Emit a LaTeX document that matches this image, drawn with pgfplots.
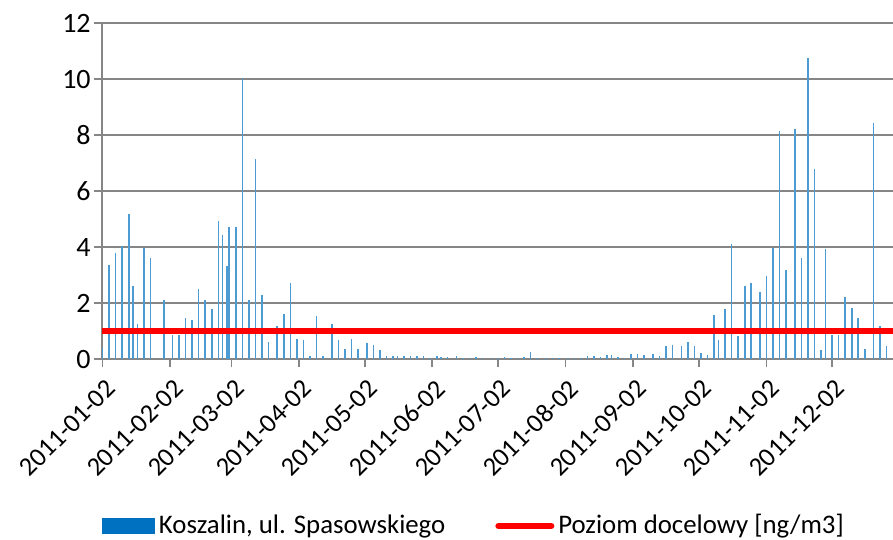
\documentclass[border=0pt]{standalone}
\usepackage{fontspec}
\setmainfont{Carlito}
\usepackage{pgfplots}
\usepackage{pgfplotstable}
\pgfplotsset{compat=1.18}
\definecolor{barblue}{RGB}{0,112,192}
\definecolor{gridgray}{RGB}{134,134,134}
\pgfplotstableread{
d v
0 0.42
3 3.37
6 3.79
9 4.03
12 5.19
14 2.60
16 1.27
19 3.97
22 3.60
28 2.13
32 0.85
35 0.85
38 1.49
41 1.40
44 2.51
47 2.10
50 1.81
53 4.93
55 4.44
57 3.32
58 4.72
61 4.72
64 10.02
67 2.10
70 7.15
73 2.31
76 0.60
80 1.20
83 1.60
86 2.71
89 0.74
92 0.69
95 0.10
98 1.56
101 0.10
105 1.26
108 0.69
111 0.37
114 0.74
117 0.37
121 0.59
124 0.51
127 0.34
130 0.10
133 0.10
135 0.10
138 0.10
141 0.10
144 0.10
147 0.10
150 0.04
153 0.12
155 0.07
158 0.08
162 0.10
165 0.05
168 0.05
171 0.08
174 0.04
178 0.04
181 0.04
184 0.08
187 0.04
190 0.04
193 0.07
196 0.25
199 0.04
203 0.04
206 0.04
209 0.04
213 0.04
216 0.04
219 0.04
222 0.10
225 0.13
228 0.08
231 0.14
233 0.16
236 0.08
239 0.04
242 0.18
245 0.20
248 0.16
252 0.18
255 0.10
258 0.49
261 0.50
265 0.46
268 0.61
271 0.48
274 0.24
277 0.16
280 1.59
282 0.70
285 1.80
288 4.12
291 0.82
294 2.60
297 2.71
301 2.41
304 2.96
307 3.96
310 8.13
313 3.20
317 8.23
320 3.60
323 10.75
326 6.78
329 0.33
331 3.93
334 0.88
337 0.88
340 2.22
343 1.82
346 1.49
349 0.36
353 8.43
356 1.20
359 0.47
}\datatab
\begin{document}
\fontsize{13.4}{16}\selectfont
\begin{tikzpicture}
\begin{axis}[name=ax, scale only axis, width=395.5pt, height=168.15pt,
  xmin=-0.25, xmax=361.9, ymin=0, ymax=12,
  xtick={0,31,59,90,120,151,181,212,243,273,304,334},
  xticklabels={2011-01-02,2011-02-02,2011-03-02,2011-04-02,2011-05-02,2011-06-02,2011-07-02,2011-08-02,2011-09-02,2011-10-02,2011-11-02,2011-12-02},
  ytick={0,2,4,6,8,10,12},
  ymajorgrids, grid style={gridgray, line width=0.9pt},
  axis x line*=bottom, axis y line*=left,
  axis line style={gridgray, line width=0.9pt, -},
  tick style={gridgray, line width=0.9pt},
  tick align=outside, major tick length=4pt,
  /pgf/number format/assume math mode=true,
  ticklabel style={text=black},
  yticklabel style={font=\fontsize{14}{16}\selectfont, xshift=3pt},
  xticklabel style={font=\fontsize{13.2}{16}\selectfont, rotate=45, anchor=east, xshift=1.5pt, yshift=-9pt},
  legend columns=2,
  legend style={at={(axis description cs:0,-0.4957)}, anchor=west, draw=none, inner sep=0pt,
    font=\fontsize{13.4}{16}\selectfont,
    /tikz/every even column/.append style={column sep=23pt}},
]
\addplot[ycomb, no markers, draw=barblue!70!white, line width=0.8pt,
  legend image code/.code={\fill[barblue] (0pt,-3.5pt) rectangle (25.5pt,3.5pt);}]
  table[x=d, y=v]{\datatab};
\addlegendentry{Koszalin, ul. Spasowskiego}
\addplot[red, line width=3pt, no markers,
  legend image code/.code={\draw[red, line width=3pt, line cap=round] (0pt,0pt) -- (26.5pt,0pt);}]
  coordinates {(-0.25,1) (361.9,1)};
\addlegendentry{Poziom docelowy [ng/m3]}
\end{axis}
\pgfresetboundingbox
\path[use as bounding box] ([xshift=-51pt,yshift=-90.35pt]ax.south west) rectangle ([yshift=11.5pt]ax.north east);
\end{tikzpicture}
\end{document}
